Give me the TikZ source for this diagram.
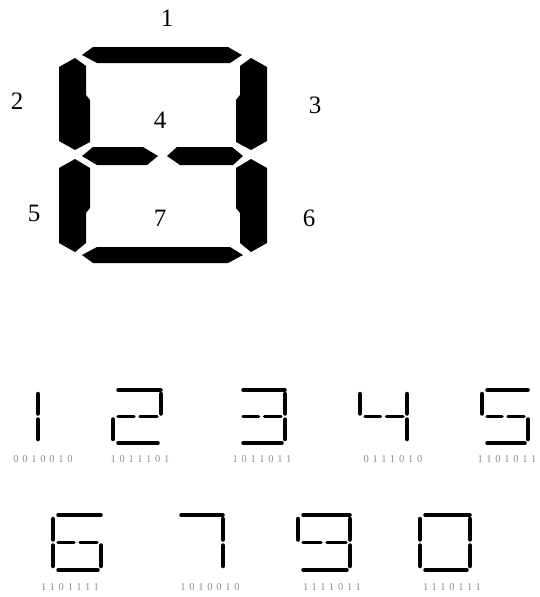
\documentclass[tikz,border=0pt]{standalone}
\usepackage{fontspec}
\setmainfont{Liberation Serif}
\newfontfamily\binfont[LetterSpace=36]{Liberation Serif}

\tikzset{
  bigseg/.style={fill=black},
  seglbl/.style={font=\fontsize{25}{25}\selectfont, inner sep=0pt},
  hseg/.style={line width=3.5pt, line cap=round},
  vseg/.style={line width=4.5pt, line cap=round},
  binlbl/.style={font=\binfont\fontsize{10.5}{11}\selectfont, text=black!45, inner sep=0pt}
}

% one segment of a small digit: #1 segment, #2 x0, #3 y0, #4 width, #5 height
\newcommand{\smallseg}[5]{%
  \ifcase#1\or
    \draw[hseg] (#2+5,#3) -- (#2+#4,#3);
  \or
    \draw[vseg] (#2,#3+4) -- (#2,#3+#5/2-3);
  \or
    \draw[vseg] (#2+#4,#3+4) -- (#2+#4,#3+#5/2-3);
  \or
    \draw[hseg] (#2+5,#3+#5/2) -- (#2+#4/2-3,#3+#5/2);
    \draw[hseg] (#2+#4/2+3,#3+#5/2) -- (#2+#4-4,#3+#5/2);
  \or
    \draw[vseg] (#2,#3+#5/2+3) -- (#2,#3+#5-4);
  \or
    \draw[vseg] (#2+#4,#3+#5/2+3) -- (#2+#4,#3+#5-4);
  \or
    \draw[hseg] (#2+5,#3+#5) -- (#2+#4-3,#3+#5);
  \fi}

\begin{document}
\begin{tikzpicture}[x=1pt, y=-1pt]
  \useasboundingbox (0,0) rectangle (539,597);

  % Big display: segment 1 (top)
  \fill[bigseg] (82,55) -- (93,47) -- (228,47) -- (242,55) -- (230,63) -- (97,63) -- cycle;
  % segment 2 (upper left)
  \fill[bigseg] (75,58) -- (86,66) -- (86,95) -- (90,100) -- (90,142) -- (75,150) -- (59,141) -- (59,67) -- cycle;
  % segment 3 (upper right)
  \fill[bigseg] (251,58) -- (240,66) -- (240,95) -- (236,100) -- (236,142) -- (251,150) -- (267,141) -- (267,67) -- cycle;
  % segment 4 (middle, two halves)
  \fill[bigseg] (82,156) -- (93,147) -- (143,147) -- (158,156) -- (147,165) -- (97,165) -- cycle;
  \fill[bigseg] (167,156) -- (177,147) -- (232,147) -- (243,156) -- (233,165) -- (180,165) -- cycle;
  % segment 5 (lower left)
  \fill[bigseg] (75,159) -- (90,168) -- (90,208) -- (86,213) -- (86,243) -- (75,252) -- (59,243) -- (59,168) -- cycle;
  % segment 6 (lower right)
  \fill[bigseg] (251,159) -- (236,168) -- (236,208) -- (240,213) -- (240,243) -- (251,252) -- (267,243) -- (267,168) -- cycle;
  % segment 7 (bottom)
  \fill[bigseg] (82,255) -- (97,247) -- (230,247) -- (243,255) -- (228,263) -- (93,263) -- cycle;

  % Segment numbers
  \foreach \n/\px/\py in {1/167/18, 2/17/101, 3/315/105, 4/160/120, 5/34/213, 6/309/218, 7/160/218} {
    \node[seglbl] (lbl\n) at (\px,\py) {\n};
  }

  % Small digits with their codes (x0/y0/width/height/segments/code/label x/label y)
  \foreach \dx/\dy/\dw/\dh/\segs/\code/\lx/\ly in {
      -9/390/47/53/{3,6}/0010010/43/459,
      113/390/48/53/{1,3,4,5,7}/1011101/140/459,
      238/390/47/53/{1,3,4,6,7}/1011011/262/459,
      360/390/47/53/{2,3,4,6}/0111010/393/459,
      482/390/46/53/{1,2,4,6,7}/1101011/507/459,
      53/515/48/55/{1,2,4,5,6,7}/1101111/70/587,
      176/515/47/55/{1,3,6}/1010010/210/587,
      298/515/52/55/{1,2,3,4,6,7}/1111011/332/587,
      420/515/50/55/{1,2,3,5,6,7}/1110111/452/587} {
    \foreach \s in \segs {\smallseg{\s}{\dx}{\dy}{\dw}{\dh}}
    \node[binlbl] (bin\code) at (\lx,\ly) {\code};
  }
\end{tikzpicture}
\end{document}
